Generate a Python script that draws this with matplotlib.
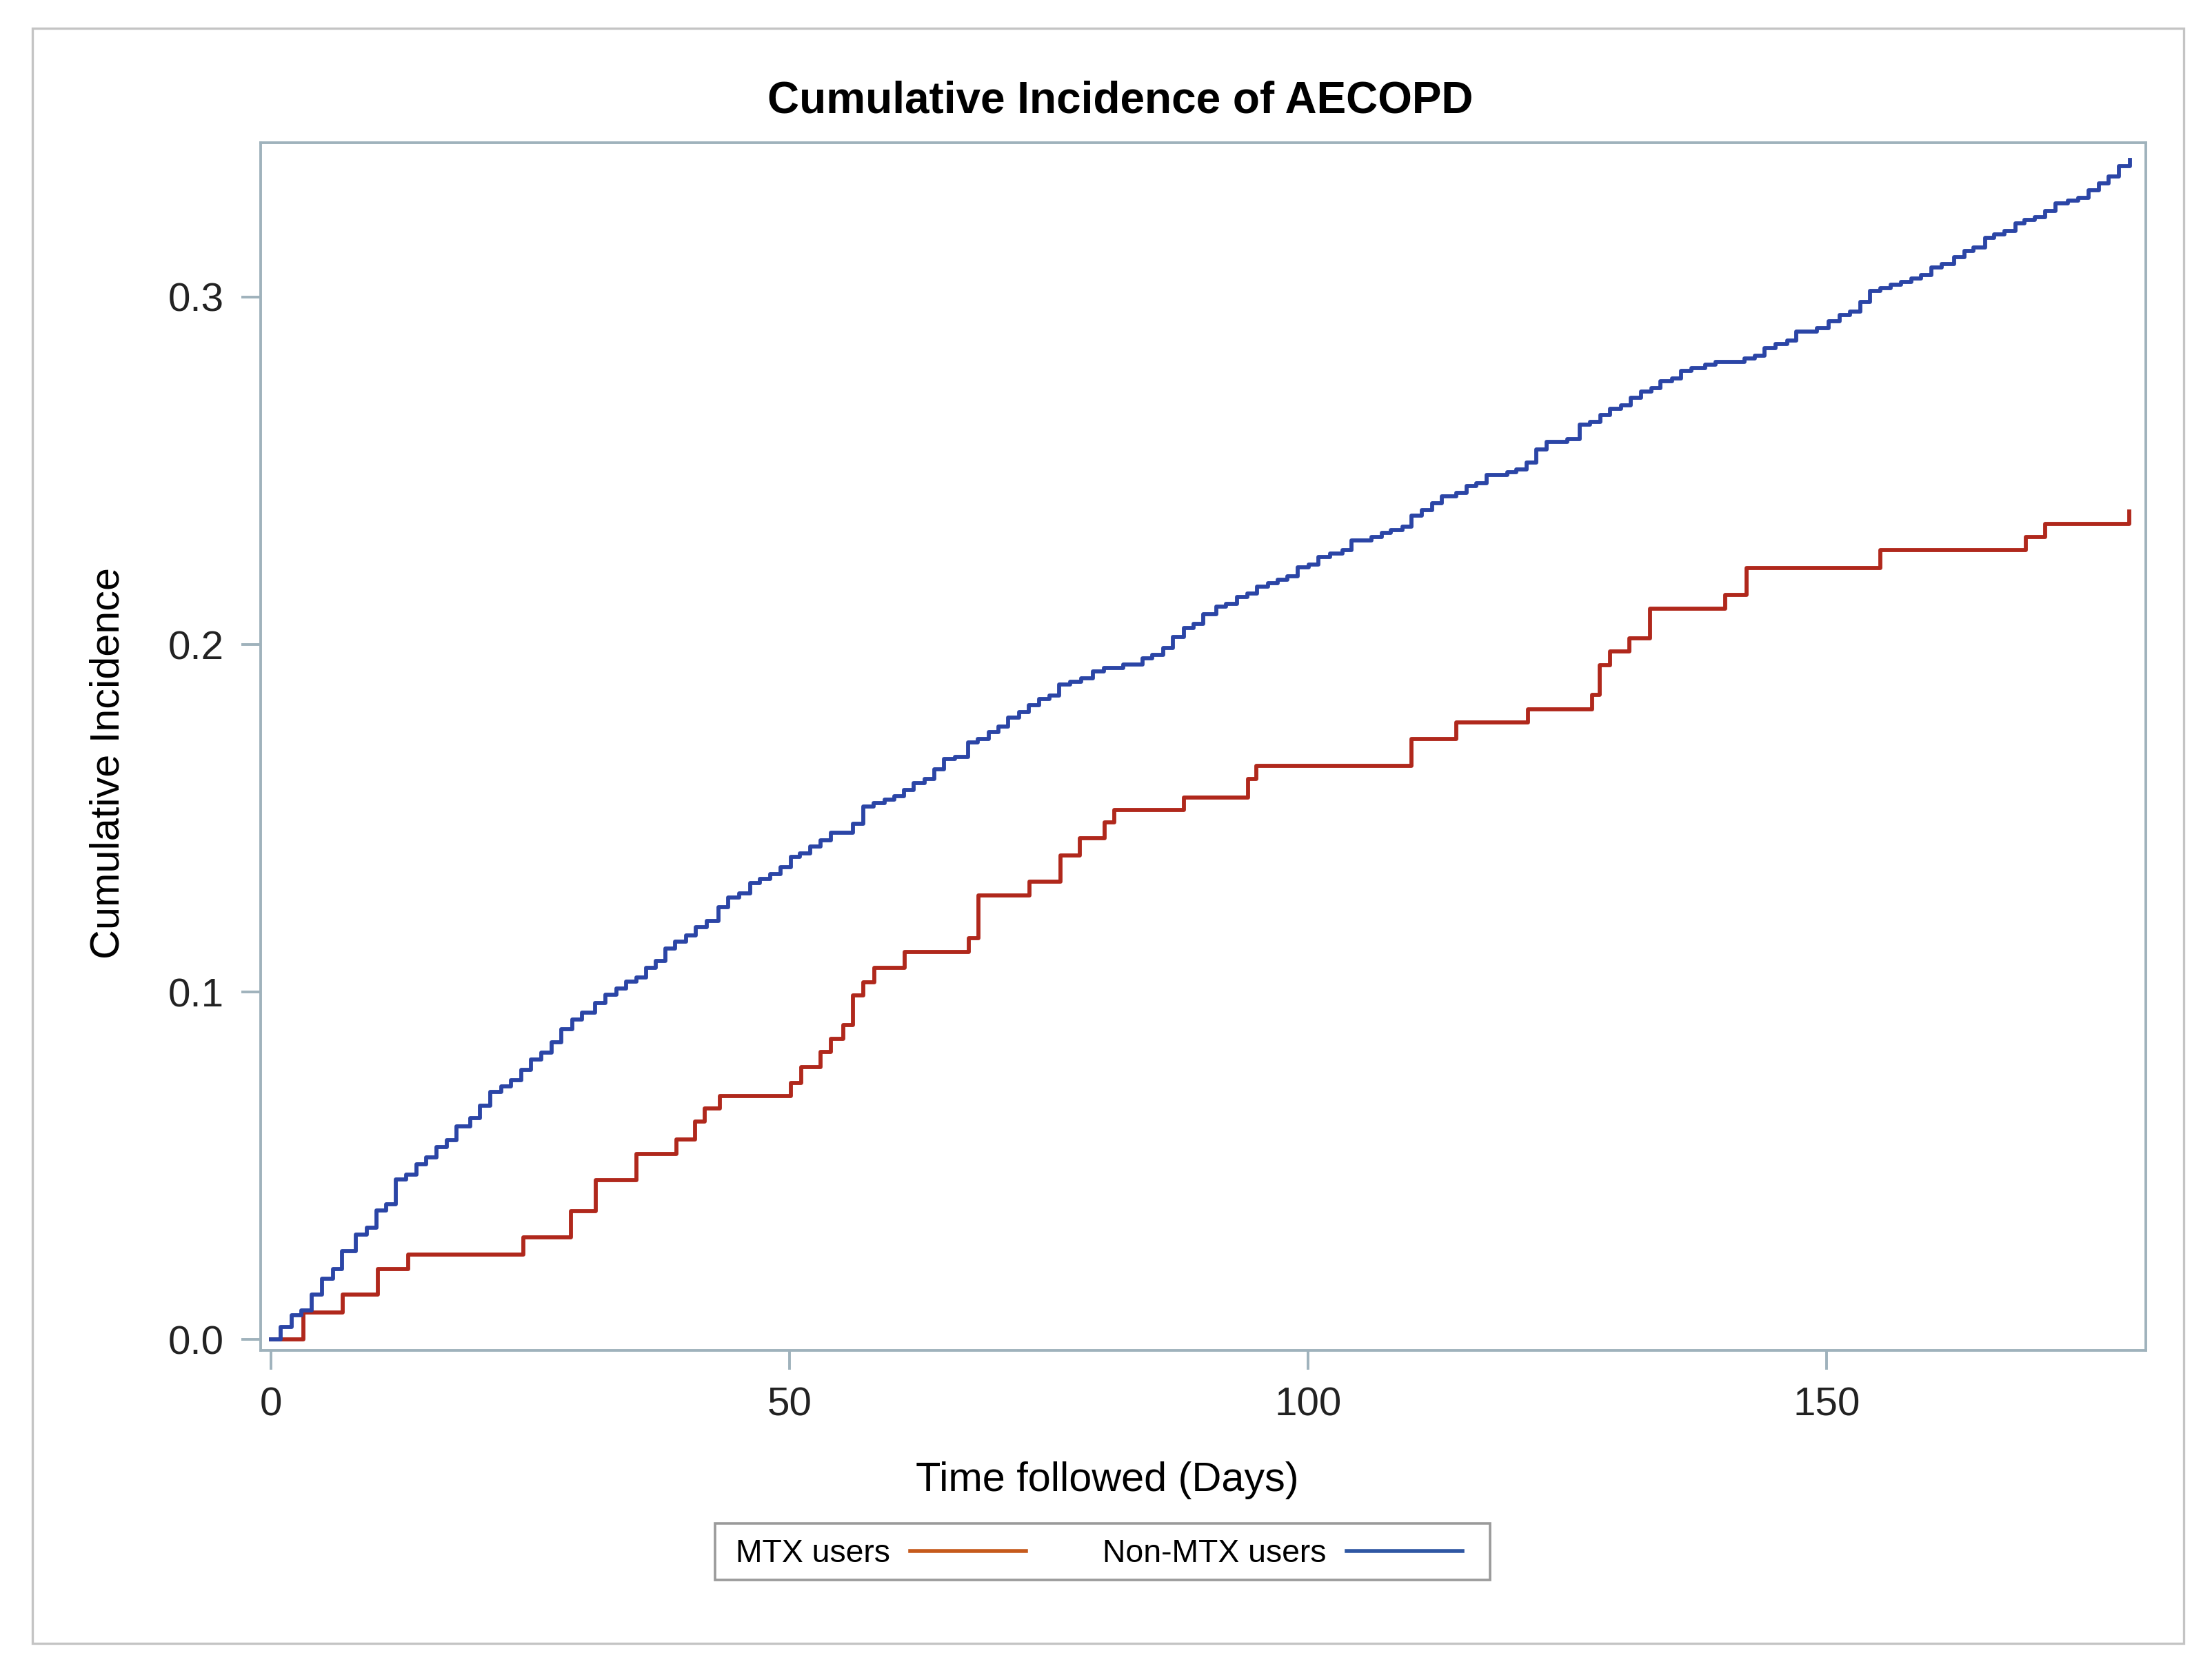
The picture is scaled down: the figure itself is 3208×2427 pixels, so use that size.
import matplotlib
matplotlib.use("Agg")
import matplotlib.pyplot as plt
from matplotlib.lines import Line2D
from matplotlib.patches import Rectangle

plt.rcParams['font.family'] = ['Liberation Sans', 'DejaVu Sans']

# ---- data ----
mtx_days = [0, 3.1, 6.9, 10.3, 13.2, 24.3, 28.9, 31.3, 35.2, 39.1, 40.9, 41.8, 43.3,
            50.1, 51.1, 53.0, 54.0, 55.2, 56.1, 57.1, 58.2, 61.1, 67.3, 68.2, 73.1,
            76.1, 78.0, 80.4, 81.3, 88.0, 94.2, 95.0, 110.0, 114.3, 121.2, 127.4,
            128.1, 129.1, 131.0, 133.0, 140.2, 142.3, 155.2, 169.2, 171.1, 179.2]
mtx_ci = [0, 0.0079, 0.0130, 0.0204, 0.0244, 0.0294, 0.0370, 0.0458, 0.0535, 0.0575,
          0.0628, 0.0666, 0.0701, 0.0738, 0.0784, 0.0828, 0.0865, 0.0906, 0.0990,
          0.1028, 0.1069, 0.1115, 0.1156, 0.1279, 0.1317, 0.1394, 0.1443, 0.1488,
          0.1524, 0.1560, 0.1613, 0.1650, 0.1728, 0.1775, 0.1814, 0.1855, 0.1941,
          0.1981, 0.2018, 0.2104, 0.2143, 0.2221, 0.2271, 0.2309, 0.2348, 0.2383]

non_days = [0, 0.93, 1.96, 2.89, 3.87, 4.90, 5.93, 6.86, 8.17, 9.19, 10.13, 11.06, 11.99,
            13.02, 14.0, 14.93, 15.96, 16.94, 17.87, 19.18, 20.16, 21.14, 22.17, 23.1,
            24.12, 25.06, 26.04, 27.06, 28.0, 29.02, 30.0, 31.26, 32.2, 33.27, 34.2,
            35.23, 36.16, 37.1, 38.03, 38.96, 39.99, 40.92, 42.0, 43.16, 44.1, 45.12,
            46.2, 47.1, 48.1, 49.1, 50.1, 51.0, 52.0, 53.0, 54.0, 56.1, 57.1, 58.13,
            59.16, 60.09, 61.02, 61.96, 63.03, 63.96, 64.9, 65.97, 67.23, 68.16, 69.24,
            70.17, 71.1, 72.13, 73.06, 74.09, 75.03, 75.96, 77.03, 78.11, 79.23, 80.3,
            82.17, 84.03, 84.97, 86.04, 86.97, 88.0, 88.93, 89.87, 91.17, 92.1, 93.13,
            94.16, 95.09, 96.17, 97.1, 98.03, 98.97, 100.04, 100.97, 102.1, 103.3,
            104.2, 106.1, 107.1, 108.0, 109.1, 110.0, 111.0, 112.0, 112.9, 114.3,
            115.3, 116.2, 117.2, 119.2, 120.1, 121.1, 122.0, 123.0, 125.0, 126.2,
            127.2, 128.2, 129.1, 130.2, 131.1, 132.1, 133.1, 134.0, 135.1, 136.0,
            137.0, 138.3, 139.3, 142.1, 143.1, 144.05, 145.1, 146.2, 147.1, 149.1,
            150.2, 151.3, 152.3, 153.3, 154.2, 155.2, 156.2, 157.2, 158.2, 159.1,
            160.1, 161.1, 162.3, 163.3, 164.2, 165.3, 166.2, 167.2, 168.2, 169.1,
            170.1, 171.1, 172.1, 173.3, 174.3, 175.3, 176.3, 177.2, 178.2, 179.3]
non_ci = [0, 0.0037, 0.0071, 0.0084, 0.0130, 0.0175, 0.0204, 0.0254, 0.0303, 0.0323,
          0.0372, 0.0390, 0.0461, 0.0475, 0.0505, 0.0525, 0.0554, 0.0574, 0.0614,
          0.0638, 0.0673, 0.0712, 0.0729, 0.0747, 0.0776, 0.0806, 0.0825, 0.0855,
          0.0893, 0.0922, 0.0941, 0.0969, 0.0992, 0.1011, 0.1031, 0.1043, 0.1070,
          0.1089, 0.1126, 0.1146, 0.1163, 0.1187, 0.1205, 0.1245, 0.1272, 0.1284,
          0.1313, 0.1325, 0.1340, 0.1360, 0.1389, 0.1400, 0.1418, 0.1437, 0.1458,
          0.1485, 0.1534, 0.1543, 0.1553, 0.1563, 0.1581, 0.1601, 0.1614, 0.1642,
          0.1670, 0.1677, 0.1718, 0.1728, 0.1748, 0.1765, 0.1789, 0.1806, 0.1826,
          0.1844, 0.1854, 0.1885, 0.1893, 0.1903, 0.1923, 0.1933, 0.1943, 0.1960,
          0.1971, 0.1991, 0.2021, 0.2048, 0.2059, 0.2087, 0.2109, 0.2117, 0.2137,
          0.2146, 0.2166, 0.2176, 0.2186, 0.2196, 0.2223, 0.2231, 0.2251, 0.2262,
          0.2271, 0.2300, 0.2310, 0.2322, 0.2330, 0.2339, 0.2370, 0.2387, 0.2406,
          0.2426, 0.2436, 0.2456, 0.2465, 0.2487, 0.2496, 0.2504, 0.2524, 0.2562,
          0.2584, 0.2591, 0.2632, 0.2640, 0.2661, 0.2679, 0.2688, 0.2711, 0.2728,
          0.2738, 0.2757, 0.2765, 0.2787, 0.2796, 0.2805, 0.2814, 0.2824, 0.2832,
          0.2852, 0.2864, 0.2874, 0.2901, 0.2911, 0.2931, 0.2949, 0.2959, 0.2986,
          0.3017, 0.3025, 0.3035, 0.3043, 0.3053, 0.3063, 0.3085, 0.3094, 0.3114,
          0.3132, 0.3142, 0.3170, 0.3180, 0.3190, 0.3211, 0.3221, 0.3230, 0.3247,
          0.3269, 0.3277, 0.3285, 0.3307, 0.3327, 0.3346, 0.3377, 0.3394]

x_ticks = [0, 50, 100, 150]
y_ticks = [0.0, 0.1, 0.2, 0.3]
y_tick_labels = ["0.0", "0.1", "0.2", "0.3"]
series_labels = ["MTX users", "Non-MTX users"]
title = "Cumulative Incidence of AECOPD"
xlabel = "Time followed (Days)"
ylabel = "Cumulative Incidence"

# ---- figure ----
W, H, DPI = 3208, 2427, 200
fig = plt.figure(figsize=(W / DPI, H / DPI), dpi=DPI, facecolor='white')

def fx(px):
    return px / W

def fy(py):
    return 1 - py / H

# outer frame
fig.patches.append(Rectangle((fx(47), fy(2384)), fx(3167) - fx(47), fy(41) - fy(2384),
                             transform=fig.transFigure, fill=False,
                             edgecolor='#c4c4c4', linewidth=1.2, zorder=0))

ax = fig.add_axes([fx(378), fy(1959), fx(3112) - fx(378), fy(207) - fy(1959)])

red = '#b0281c'
blue = '#2b45a6'
ax.step(mtx_days, mtx_ci, where='post', color=red, linewidth=2.1, zorder=3)
ax.step(non_days, non_ci, where='post', color=blue, linewidth=2.1, zorder=3)

ax.set_xlim(-1.02, 180.8)
ax.set_ylim(-0.0031, 0.3444)

spine_col = '#9fb2bc'
for s in ax.spines.values():
    s.set_color(spine_col)
    s.set_linewidth(1.4)

ax.set_xticks(x_ticks)
ax.set_xticklabels([str(t) for t in x_ticks])
ax.set_yticks(y_ticks)
ax.set_yticklabels(y_tick_labels)
ax.tick_params(axis='both', direction='out', length=10, width=1.4, color=spine_col,
               labelsize=21, labelcolor='#222222', pad=9)

fig.text(fx(1625), fy(163), title, ha='center', va='baseline',
         fontsize=23, fontweight='bold', color='black')
fig.text(fx(1606), fy(2163), xlabel, ha='center', va='baseline',
         fontsize=21.4, color='black')
fig.text(fx(157), fy(1107), ylabel, ha='center', va='center', rotation=90,
         fontsize=21.4, color='black')

# legend box (drawn separately to match its padding)
fig.patches.append(Rectangle((fx(1037), fy(2292)), fx(2161) - fx(1037), fy(2210) - fy(2292),
                             transform=fig.transFigure, fill=True, facecolor='white',
                             edgecolor='#9a9a9a', linewidth=1.3, zorder=1))
handles = [Line2D([0], [0], color='#c65a1c', linewidth=2.0),
           Line2D([0], [0], color='#2f57a3', linewidth=2.0)]
leg = fig.legend(handles, series_labels, loc='center',
                 bbox_to_anchor=(fx(1594), fy(2254)), ncol=2, markerfirst=False,
                 fontsize=16.7, frameon=False,
                 handlelength=3.62, handletextpad=0.63, columnspacing=2.4,
                 borderpad=0.3, borderaxespad=0)
leg.set_zorder(5)

fig.savefig('out.png', dpi=DPI, facecolor='white')
